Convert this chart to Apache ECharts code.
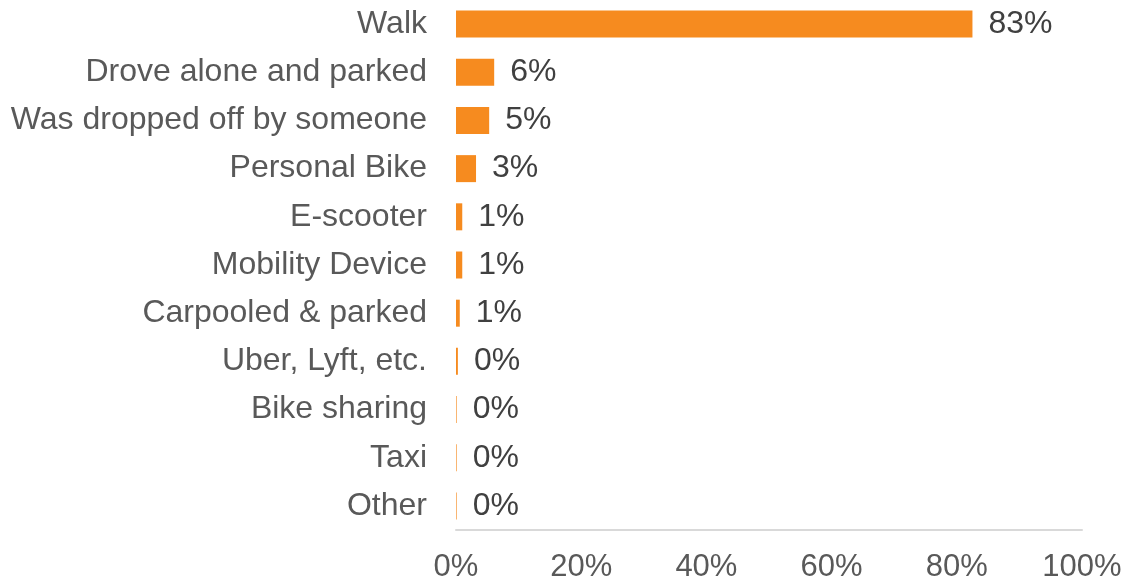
<!DOCTYPE html>
<html>
<head>
<meta charset="utf-8">
<script src="https://cdn.jsdelivr.net/npm/echarts@6/dist/echarts.min.js"></script>
<style>
  html, body { margin: 0; padding: 0; background: #fff; }
  #chart { width: 1131px; height: 586px; }
</style>
</head>
<body>
<div id="chart"></div>
<script>
// modes of arrival, top to bottom
const modes = [
  "Walk", "Drove alone and parked", "Was dropped off by someone", "Personal Bike",
  "E-scooter", "Mobility Device", "Carpooled & parked", "Uber, Lyft, etc.",
  "Bike sharing", "Taxi", "Other"
]
// share in percent
const shares = [82.5, 6.1, 5.3, 3.2, 1.0, 1.0, 0.6, 0.3, 0.1, 0.1, 0.1]
const shareLabels = ["83%", "6%", "5%", "3%", "1%", "1%", "1%", "0%", "0%", "0%", "0%"]
const xTicks = [0, 20, 40, 60, 80, 100]

const chart = echarts.init(document.getElementById("chart"))
chart.setOption({
  animation: false,
  grid: {
    left: 456,
    right: 49,
    top: -1,
    bottom: 56
  },
  xAxis: {
    type: "value",
    min: 0,
    max: 100,
    interval: 20,
    axisLine: {
      show: true,
      lineStyle: { color: "#d9d9d9", width: 2 }
    },
    axisTick: { show: false },
    splitLine: { show: false },
    axisLabel: {
      color: "#595959",
      fontSize: 31,
      fontFamily: "Liberation Sans, Arial, sans-serif",
      margin: 22,
      formatter: (v) => xTicks.includes(v) ? v + "%" : ""
    }
  },
  yAxis: {
    type: "category",
    inverse: true,
    data: modes,
    axisLine: { show: false },
    axisTick: { show: false },
    axisLabel: {
      color: "#595959",
      fontSize: 32,
      fontFamily: "Liberation Sans, Arial, sans-serif",
      margin: 29
    }
  },
  series: [
    {
      type: "bar",
      data: shares,
      barWidth: 27,
      itemStyle: { color: "#f68b1f" },
      label: {
        show: true,
        position: "right",
        distance: 16,
        color: "#404040",
        fontSize: 32,
        fontFamily: "Liberation Sans, Arial, sans-serif",
        formatter: (p) => shareLabels[p.dataIndex]
      }
    }
  ]
})
</script>
</body>
</html>
